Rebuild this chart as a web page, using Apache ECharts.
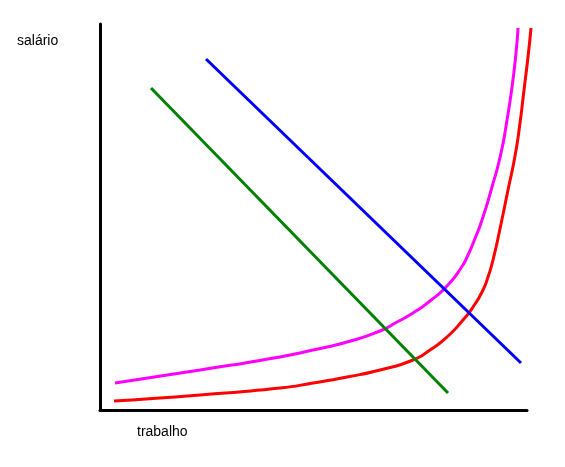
<!DOCTYPE html>
<html>
<head>
<meta charset="utf-8">
<script src="https://cdn.jsdelivr.net/npm/echarts@6/dist/echarts.min.js"></script>
<style>
  html, body { margin: 0; padding: 0; background: #fff; }
  #main { width: 565px; height: 467px; }
</style>
</head>
<body>
<div id="main"></div>
<script>
// values (trabalho along x, salário along y)
var oferta1 = [[15, 27], [100, 40], [180, 53], [213, 60], [247, 68], [280, 79], [297, 88], [313, 97],
  [330, 109], [347, 124], [361, 142], [368, 155], [374, 169], [382, 190], [392, 223], [401, 257],
  [407, 290], [412, 323], [416, 357], [418, 382]];
var oferta2 = [[14, 9], [100, 15], [180, 22], [213, 27], [247, 33], [280, 40], [313, 50], [330, 60],
  [347, 73], [363, 90], [373, 103], [383, 120], [388, 133], [393, 150], [401, 186], [408, 220],
  [415, 254], [420, 287], [424, 320], [428, 353], [431, 382]];
var procura1 = [[51, 322], [348, 17]];
var procura2 = [[106, 351], [421, 47]];

var chart = echarts.init(document.getElementById("main"));

function serie(data, color, smooth) {
  return {
    type: "line",
    xAxisIndex: 1,
    yAxisIndex: 1,
    data: data,
    smooth: smooth,
    symbol: "none",
    lineStyle: { color: color, width: 3 },
  };
}

var hidden = {
  axisLine: { show: false },
  axisTick: { show: false },
  axisLabel: { show: false },
  splitLine: { show: false },
};
var shown = {
  axisLine: { show: true, lineStyle: { color: "#000", width: 3 } },
  axisTick: { show: false },
  axisLabel: { show: false },
  splitLine: { show: false },
};

var option = {
  animation: false,
  // grid 0 draws the axes, grid 1 (same scale, a bit wider) holds the curves
  grid: [
    { left: 100, top: 24, right: 38, bottom: 57 },
    { left: 100, top: 24, right: 28, bottom: 57 },
  ],
  xAxis: [
    Object.assign({ type: "value", gridIndex: 0, min: 0, max: 427 }, shown),
    Object.assign({ type: "value", gridIndex: 1, min: 0, max: 437 }, hidden),
  ],
  yAxis: [
    Object.assign({ type: "value", gridIndex: 0, min: 0, max: 386 }, shown),
    Object.assign({ type: "value", gridIndex: 1, min: 0, max: 386 }, hidden),
  ],
  graphic: [
    {
      type: "text",
      left: 17,
      top: 34,
      style: { text: "salário", font: "14px 'Liberation Sans', Arial, sans-serif", fill: "#000" },
    },
    {
      type: "text",
      left: 137,
      top: 425,
      style: { text: "trabalho", font: "14px 'Liberation Sans', Arial, sans-serif", fill: "#000" },
    },
  ],
  series: [
    serie(oferta1, "#ff00ff", 0.6),
    serie(oferta2, "#ff0000", 0.6),
    serie(procura1, "#008000", false),
    serie(procura2, "#0000ff", false),
  ],
};
chart.setOption(option);
</script>
</body>
</html>
